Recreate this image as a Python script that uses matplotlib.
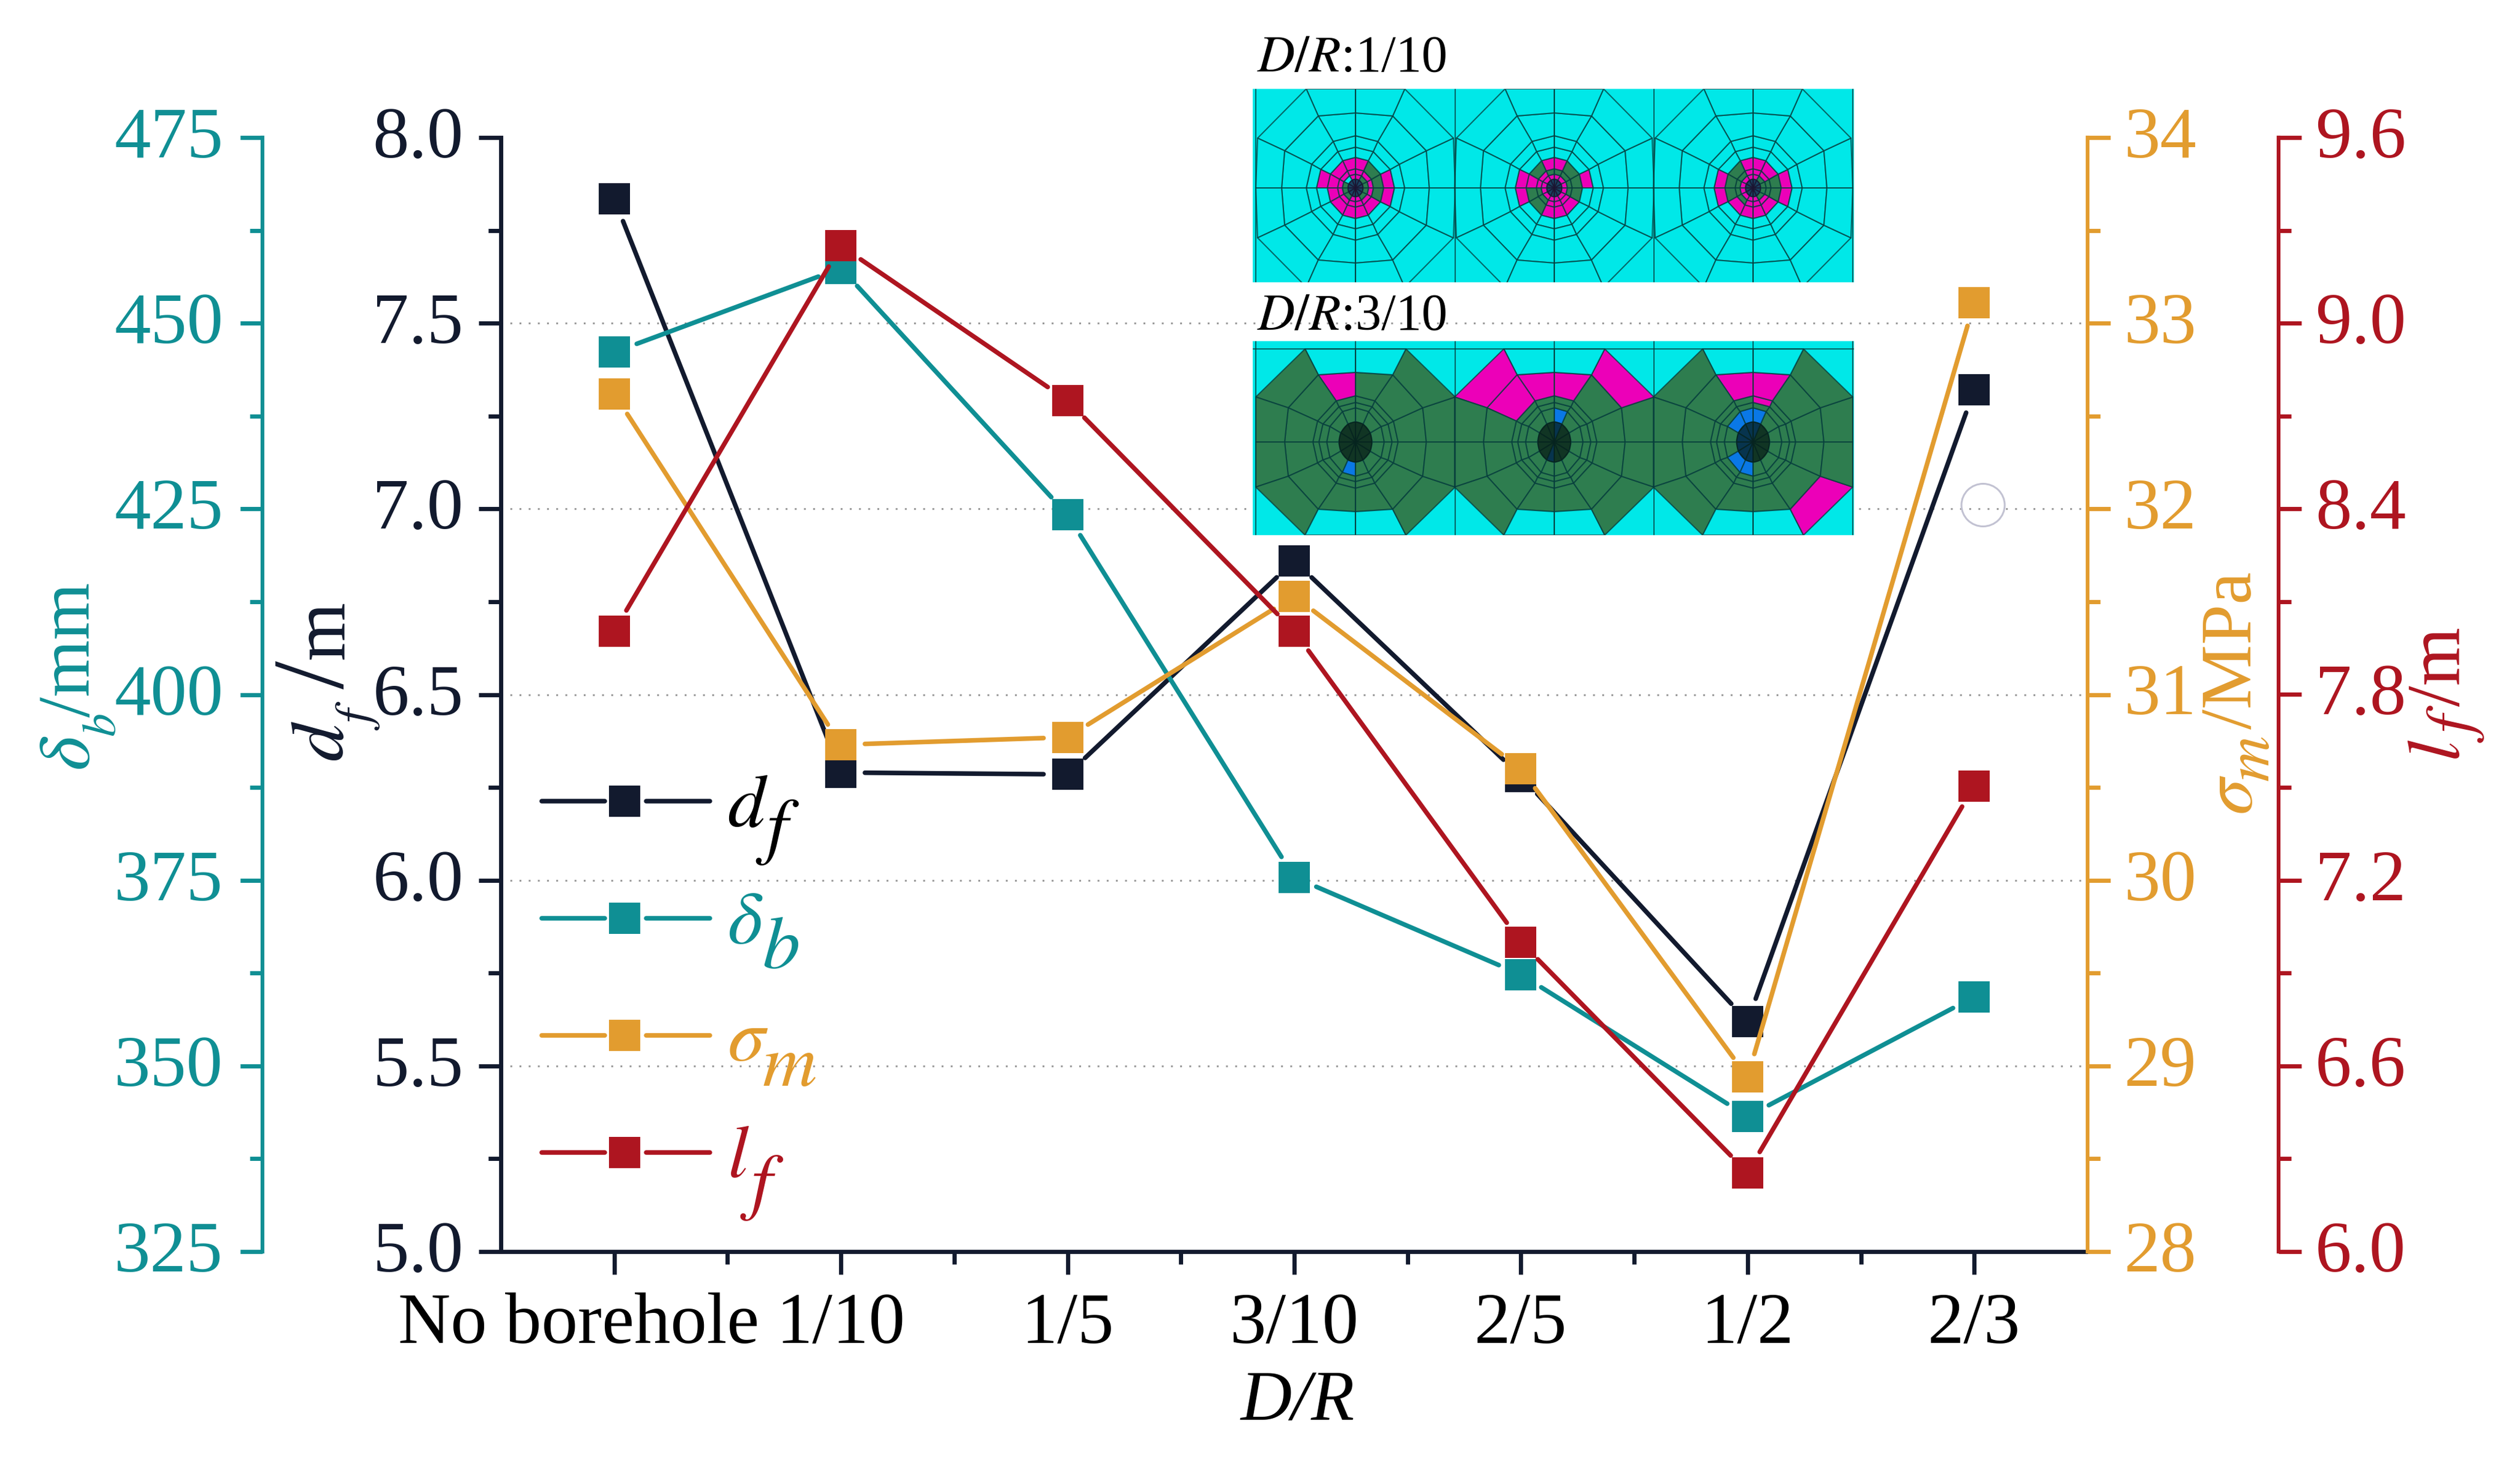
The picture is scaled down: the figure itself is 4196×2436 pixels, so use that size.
import numpy as np
import matplotlib
matplotlib.use("Agg")
import matplotlib.pyplot as plt
from matplotlib.collections import PolyCollection
from matplotlib.colors import to_rgba
from matplotlib.patches import Ellipse
from matplotlib.ticker import MultipleLocator, FormatStrFormatter
from matplotlib.transforms import ScaledTranslation

plt.rcParams['font.family'] = ['Liberation Serif', 'DejaVu Serif']
plt.rcParams['mathtext.fontset'] = 'stix'

# data
categories = ["No borehole", "1/10", "1/5", "3/10", "2/5", "1/2", "2/3"]
d_f = [7.835, 6.29, 6.285, 6.86, 6.28, 5.62, 7.32]
delta_b = [446.1, 457.4, 424.2, 375.4, 362.3, 343.2, 359.3]
sigma_m = [32.62, 30.73, 30.77, 31.53, 30.6, 28.94, 33.11]
l_f = [8.005, 9.25, 8.75, 8.005, 7.0, 6.255, 7.505]

NAVY = "#121A2E"
TEAL = "#0F8F94"
ORANGE = "#E29C2F"
RED = "#AE1520"

W, H = 4196, 2436
fig = plt.figure(figsize=(W / 100, H / 100), dpi=100, facecolor="white")

L, R, T, B = 834, 3476, 229, 2084
ax = fig.add_axes([L / W, 1 - B / H, (R - L) / W, (B - T) / H])
x_pos = np.arange(len(categories))
ax.set_xlim(-0.5, 6.5)
ax.set_ylim(5, 8)


def style_axis(a, side, color, major, minor, fmt, pad):
    a.yaxis.set_major_locator(MultipleLocator(major))
    a.yaxis.set_minor_locator(MultipleLocator(minor))
    a.yaxis.set_major_formatter(FormatStrFormatter(fmt))
    a.tick_params(axis="y", which="major", length=27, width=5, color=color,
                  labelcolor=color, labelsize=87, pad=pad)
    a.tick_params(axis="y", which="minor", length=15, width=5, color=color)
    a.spines[side].set_color(color)
    a.spines[side].set_linewidth(4.5)
    # digits sit a little above the tick
    for lab in a.get_yticklabels():
        lab.set_transform(lab.get_transform() + ScaledTranslation(0, 0.09, fig.dpi_scale_trans))


def new_twin(side, ylim):
    t = ax.twinx()
    t.set_ylim(*ylim)
    for s in t.spines.values():
        s.set_visible(False)
    t.spines[side].set_visible(True)
    t.yaxis.set_ticks_position(side)
    t.yaxis.set_label_position(side)
    return t


for s in ["top", "right"]:
    ax.spines[s].set_visible(False)
style_axis(ax, "left", NAVY, 0.5, 0.25, "%.1f", 18)
ax.spines["left"].set_linewidth(5)
ax.spines["bottom"].set_color(NAVY)
ax.spines["bottom"].set_linewidth(5)

ax.set_xticks(x_pos)
ax.set_xticklabels(categories)
ax.set_xticks(x_pos[:-1] + 0.5, minor=True)
ax.tick_params(axis="x", which="major", length=27, width=5, color=NAVY,
               labelcolor="black", labelsize=87, pad=22)
ax.tick_params(axis="x", which="minor", length=15, width=5, color=NAVY)
first = ax.get_xticklabels()[0]
first.set_transform(first.get_transform() + ScaledTranslation(-0.59, 0, fig.dpi_scale_trans))

# grid
for g in [5.5, 6.0, 6.5, 7.0, 7.5]:
    ax.axhline(g, color="#9a9a9a", lw=2.2, ls=(0, (1, 4)), zorder=0.5)

ax2 = new_twin("left", (325, 475))
ax2.spines["left"].set_position(("outward", (L - 437) * 0.72))
style_axis(ax2, "left", TEAL, 25, 12.5, "%d", 20)

ax3 = new_twin("right", (28, 34))
style_axis(ax3, "right", ORANGE, 1, 0.5, "%d", 17)

ax4 = new_twin("right", (6, 9.6))
ax4.spines["right"].set_position(("outward", (3794 - R) * 0.72))
style_axis(ax4, "right", RED, 0.6, 0.3, "%.1f", 17)


def draw_series(a, vals, color):
    # lines stop short of the markers, so cut each segment in pixel space
    pts = a.transData.transform(np.column_stack([x_pos, vals]))
    inv = a.transData.inverted()
    for p, q in zip(pts[:-1], pts[1:]):
        u = (q - p) / np.hypot(*(q - p))
        seg = inv.transform([p + u * 40, q - u * 40])
        a.plot(seg[:, 0], seg[:, 1], color=color, lw=5.5, solid_capstyle="round", zorder=3)
    a.plot(x_pos, vals, ls="none", marker="s", ms=37, mfc=color, mec=color, mew=0, zorder=4)


draw_series(ax, d_f, NAVY)
draw_series(ax2, delta_b, TEAL)
draw_series(ax3, sigma_m, ORANGE)
draw_series(ax4, l_f, RED)

# overlay in pixel coordinates for free text and the hand made legend
ov = fig.add_axes([0, 0, 1, 1], zorder=5)
ov.set_xlim(0, W)
ov.set_ylim(H, 0)
ov.axis("off")
ov.patch.set_alpha(0)


def vtext(x, y, s, color, size):
    # rotated piece of an axis title, anchored at the start of its baseline
    ov.text(x, y, s, color=color, fontsize=size, rotation=90, rotation_mode="anchor",
            ha="left", va="baseline")


vtext(149, 1283, r"$\delta$", TEAL, 88)
vtext(192, 1227, r"$b$", TEAL, 56)
vtext(149, 1194, "/mm", TEAL, 88)

vtext(571, 1268, r"$d$", NAVY, 90)
vtext(616, 1216, r"$f$", NAVY, 60)
vtext(571, 1147, "/", NAVY, 122)
vtext(571, 1098, "m", NAVY, 90)

vtext(3750, 1357, r"$\sigma$", ORANGE, 88)
vtext(3778, 1302, r"$m$", ORANGE, 76)
vtext(3748, 1214, "/MPa", ORANGE, 87)

vtext(4095, 1268, r"$l$", RED, 90)
vtext(4115, 1236, r"$f$", RED, 78)
vtext(4095, 1176, "/m", RED, 90)

ov.text(2160, 2364, "D/R", style="italic", color="black", fontsize=85, ha="center", va="baseline")
ov.add_patch(Ellipse((3302, 841), 72, 71, fc="none", ec="#c2c2d2", lw=2.2))

legend_rows = [
    ("d", "f", NAVY, "black", 1334, 1376, 1258, 1415),
    ("\\delta", "b", TEAL, TEAL, 1529, 1571, 1269, 1612),
    ("\\sigma", "m", ORANGE, ORANGE, 1724, 1766, 1269, 1808),
    ("l", "f", RED, RED, 1919, 1960, 1232, 2007),
]
for sym, sub, col, tcol, ly, by, sx, sy in legend_rows:
    ov.plot([902, 1007], [ly, ly], color=col, lw=5.5, solid_capstyle="round")
    ov.plot([1076, 1182], [ly, ly], color=col, lw=5.5, solid_capstyle="round")
    ov.plot([1040], [ly], ls="none", marker="s", ms=37, mfc=col, mew=0)
    ov.text(1211, by, "$" + sym + "$", color=tcol, fontsize=90, va="baseline")
    ov.text(sx, sy, "$" + sub + "$", color=tcol, fontsize=90, va="baseline")

ov.text(2093, 119, r"$D/R$:1/10", color="black", fontsize=62, va="baseline")
ov.text(2093, 549, r"$D/R$:3/10", color="black", fontsize=62, va="baseline")

# finite element mesh pictures, in picture pixels
CYAN = "#00E8E8"
PINK = "#EC00B8"
GREEN = "#2E7D4F"
BLUE = "#0A78E6"
MESH = to_rgba("#063c3c", 0.75)
cell_centers = [2257, 2588, 2919]
cell_edges = [2091, 2423, 2754, 3085]

rings_top = [(13, 15), (22, 23), (30, 32), (47, 51), (65, 68), (82, 87)]
ring_out_top = [(123, 0), (118, 62), (62, 120), (0, 125)]
edge_top = [(166, 0), (163, 83), (82, 165), (0, 165)]

rings_low = [(28, 34), (48, 57), (61, 66), (71, 77)]
ring_out_low = [(118, 0), (112, 57), (62, 112), (0, 116)]
edge_low = [(166, 0), (166, 75), (84, 155), (0, 155)]

# ring index -> sectors, one dict per cell, sector 0 starts at +x going anticlockwise
top_pink = [
    {1: [2, 3, 8, 9], 2: list(range(12)), 3: [2, 3, 4, 5, 6, 7, 8, 9, 10], 4: [0, 5, 11]},
    {1: list(range(12)), 2: [4, 5, 8, 9, 10], 3: [2, 3, 5, 8, 9, 10], 4: [0, 5, 6]},
    {1: [2, 3, 4, 5, 6, 7, 8, 9], 2: [1, 2, 3, 8, 9, 10], 3: [1, 2, 3, 7, 8, 9, 10], 4: [0, 5, 6, 11]},
]
top_green = [
    {1: [0, 1, 5, 6, 7, 10, 11], 3: [0, 1, 11]},
    {2: [0, 1, 2, 3, 6, 7, 11], 3: [0, 1, 4, 6, 7, 11]},
    {1: [0, 1, 10, 11], 2: [0, 4, 5, 6, 7, 11], 3: [0, 4, 5, 6, 11]},
]
low_pink = [
    {4: [3]},
    {4: [2, 3, 4], 5: [1, 4]},
    {3: [2], 4: [2, 3], 5: [10]},
]
low_blue = [
    {1: [8]},
    {0: [2, 8], 1: [2]},
    {0: [2, 3, 4, 5, 6, 7, 8], 1: [2, 3, 4, 7, 8]},
]


def quarter(rx, ry):
    a = np.radians([0, 27, 63, 90])
    return np.column_stack([rx * np.cos(a), ry * np.sin(a)])


def full_ring(q):
    # mirror one quarter of a ring into its 12 spoke points
    q = np.asarray(q, float)
    sx = [1, 1, 1, 1, -1, -1, -1, -1, -1, 1, 1, 1]
    sy = [1, 1, 1, 1, 1, 1, 1, -1, -1, -1, -1, -1]
    idx = [0, 1, 2, 3, 2, 1, 0, 1, 2, 3, 2, 1]
    return np.column_stack([q[idx, 0] * sx, q[idx, 1] * sy])


def mesh(axm, rings, cy, base, pink, other, other_col, hole, hole_color, cyan_last):
    polys, cols = [], []
    for c, cx in enumerate(cell_centers):
        pts = [full_ring(r) * [1, -1] + [cx, cy] for r in rings]
        n = len(pts) - 1
        for i in range(n):
            for k in range(12):
                k2 = (k + 1) % 12
                polys.append([pts[i][k], pts[i + 1][k], pts[i + 1][k2], pts[i][k2]])
                col = base
                if i == n - 1 and k in cyan_last:
                    col = CYAN
                if k in pink[c].get(i, []):
                    col = PINK
                elif k in other[c].get(i, []):
                    col = other_col
                cols.append(col)
    axm.add_collection(PolyCollection(polys, facecolors=cols, edgecolors=[MESH], linewidths=1.5))
    for cx in cell_centers:
        axm.add_patch(Ellipse((cx, cy), hole[0] * 2, hole[1] * 2, fc=hole_color, ec="none",
                              alpha=0.72, zorder=3))
    axm.vlines(cell_edges + cell_centers, *axm.get_ylim(), color=MESH, lw=1.5, zorder=1)


def inset(x0, x1, y0, y1):
    a = fig.add_axes([x0 / W, 1 - y1 / H, (x1 - x0) / W, (y1 - y0) / H], zorder=3)
    a.set_xlim(x0, x1)
    a.set_ylim(y1, y0)
    a.set_facecolor(CYAN)
    a.set_xticks([])
    a.set_yticks([])
    for s in a.spines.values():
        s.set_visible(False)
    return a


ax_top = inset(2086, 3087, 148, 470)
r_top = [quarter(0.01, 0.01)] + [quarter(*r) for r in rings_top] + [ring_out_top, edge_top]
mesh(ax_top, r_top, 313, CYAN, top_pink, top_green, GREEN, rings_top[0], "#24042c", [])

ax_low = inset(2086, 3087, 568, 891)
r_low = [quarter(0.01, 0.01)] + [quarter(*r) for r in rings_low] + [ring_out_low, edge_low]
mesh(ax_low, r_low, 736, GREEN, low_pink, low_blue, BLUE, rings_low[0], "#061a14", (2, 3, 8, 9))
ax_low.axhline(581, color=MESH, lw=1.5, zorder=1)

fig.savefig("out.png", dpi=100)
